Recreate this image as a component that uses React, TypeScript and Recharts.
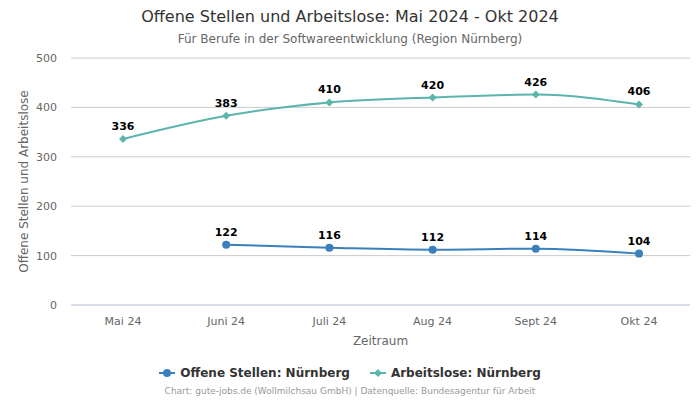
import React from 'react';
import { LineChart, Line, XAxis, YAxis, CartesianGrid, LabelList } from 'recharts';

const months = ['Mai 24', 'Juni 24', 'Juli 24', 'Aug 24', 'Sept 24', 'Okt 24'];
const offeneStellen: (number | null)[] = [null, 122, 116, 112, 114, 104];
const arbeitslose = [336, 383, 410, 420, 426, 406];
const yTicks = [0, 100, 200, 300, 400, 500];

const BLUE = '#3a80bd';
const TEAL = '#5bb5ad';
const FONT = '"DejaVu Sans", Verdana, sans-serif';

const chartData = months.map((m, i) => ({
  month: m,
  offen: offeneStellen[i],
  arbeitslos: arbeitslose[i],
}));

const Diamond = (props: any) => {
  const { cx, cy } = props;
  if (cx == null || cy == null) return null;
  const s = 4;
  return <path d={`M${cx},${cy - s}L${cx + s},${cy}L${cx},${cy + s}L${cx - s},${cy}Z`} fill={TEAL} />;
};

const ValueLabel = (props: any) => {
  const { x, y, value } = props;
  if (value == null) return null;
  return (
    <text x={x} y={y - 9} textAnchor="middle" fontSize={11} fontWeight="bold" fill="#000" fontFamily={FONT}>
      {value}
    </text>
  );
};

export default function App() {
  return (
    <div style={{ position: 'absolute', left: 0, top: 0, width: 700, height: 400, background: '#fff', fontFamily: FONT }}>
      <div style={{ position: 'absolute', top: 7, width: 700, textAlign: 'center', fontSize: 16, color: '#333' }}>
        Offene Stellen und Arbeitslose: Mai 2024 - Okt 2024
      </div>
      <div style={{ position: 'absolute', top: 32, width: 700, textAlign: 'center', fontSize: 12, color: '#666' }}>
        Für Berufe in der Softwareentwicklung (Region Nürnberg)
      </div>
      <LineChart
        width={700}
        height={400}
        data={chartData}
        margin={{ top: 58, right: 10, bottom: 65, left: 8 }}
      >
        <CartesianGrid vertical={false} stroke="#cccccc" />
        <XAxis
          dataKey="month"
          stroke="#ccd6eb"
          tickLine={false}
          padding={{ left: 52, right: 51 }}
          tick={{ fontSize: 11, fill: '#666', fontFamily: FONT }}
          tickMargin={6}
          label={{ value: 'Zeitraum', position: 'insideBottom', offset: -10, fontSize: 12, fill: '#666', fontFamily: FONT }}
        />
        <YAxis
          domain={[0, 500]}
          ticks={yTicks}
          width={63}
          axisLine={false}
          tickLine={false}
          tick={{ fontSize: 11, fill: '#666', fontFamily: FONT }}
          tickMargin={8}
          label={{ value: 'Offene Stellen und Arbeitslose', angle: -90, position: 'insideLeft', offset: 16, style: { textAnchor: 'middle' }, fontSize: 12, fill: '#666', fontFamily: FONT }}
        />
        <Line
          type="monotone"
          dataKey="offen"
          stroke={BLUE}
          strokeWidth={2}
          dot={{ r: 4, fill: BLUE, stroke: BLUE, strokeWidth: 0 }}
          activeDot={false}
          isAnimationActive={false}
          connectNulls={false}
        >
          <LabelList dataKey="offen" content={<ValueLabel />} />
        </Line>
        <Line
          type="monotone"
          dataKey="arbeitslos"
          stroke={TEAL}
          strokeWidth={2}
          dot={<Diamond />}
          activeDot={false}
          isAnimationActive={false}
        >
          <LabelList dataKey="arbeitslos" content={<ValueLabel />} />
        </Line>
      </LineChart>
      <div style={{ position: 'absolute', top: 366, width: 700, display: 'flex', justifyContent: 'center', gap: 20, fontSize: 12, fontWeight: 'bold', color: '#333' }}>
        <span style={{ display: 'flex', alignItems: 'center' }}>
          <svg width={16} height={10} style={{ marginRight: 5 }}>
            <line x1={0} y1={5} x2={16} y2={5} stroke={BLUE} strokeWidth={2} />
            <circle cx={8} cy={5} r={4} fill={BLUE} />
          </svg>
          Offene Stellen: Nürnberg
        </span>
        <span style={{ display: 'flex', alignItems: 'center' }}>
          <svg width={16} height={10} style={{ marginRight: 5 }}>
            <line x1={0} y1={5} x2={16} y2={5} stroke={TEAL} strokeWidth={2} />
            <path d="M8,1L12,5L8,9L4,5Z" fill={TEAL} />
          </svg>
          Arbeitslose: Nürnberg
        </span>
      </div>
      <div style={{ position: 'absolute', top: 386, width: 700, textAlign: 'center', fontSize: 9, color: '#999' }}>
        Chart: gute-jobs.de (Wollmilchsau GmbH) | Datenquelle: Bundesagentur für Arbeit
      </div>
    </div>
  );
}
